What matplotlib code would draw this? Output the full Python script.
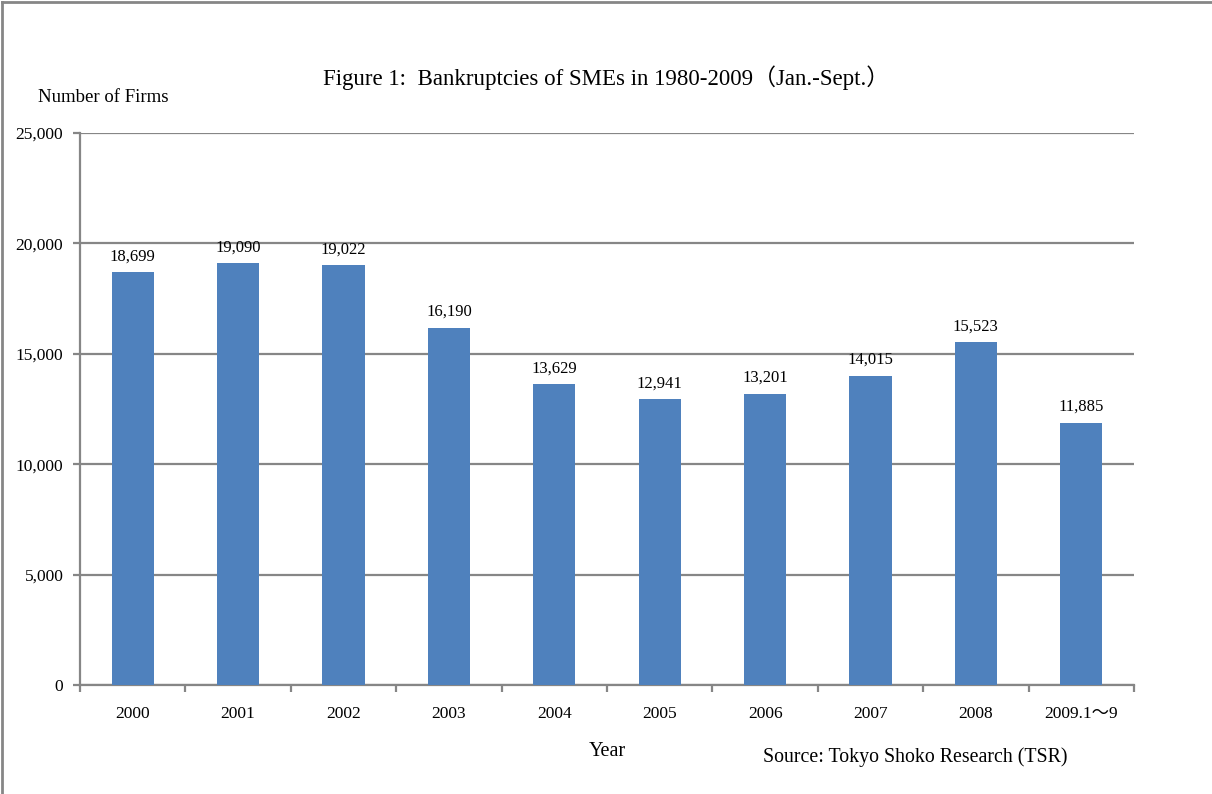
import matplotlib.pyplot as plt
from matplotlib.lines import Line2D

plt.rcParams['font.family'] = ['Liberation Serif', 'Noto Sans CJK JP']

years = ["2000", "2001", "2002", "2003", "2004", "2005", "2006", "2007", "2008", "2009.1～9"]
firms = [18699, 19090, 19022, 16190, 13629, 12941, 13201, 14015, 15523, 11885]

grey = "#868686"
fig = plt.figure(figsize=(12.12, 7.94), dpi=100)
ax = fig.add_axes([0.066, 0.1373, 0.8696, 0.6952])

x = range(len(years))
ax.bar(x, firms, width=0.4, color="#4F81BD", zorder=3)
for i, v in zip(x, firms):
    ax.text(i, v + 350, "{:,}".format(v), ha="center", va="bottom", fontsize=12)

ax.set_xlim(-0.5, len(years) - 0.5)
ax.set_ylim(0, 25000)
ax.set_yticks(range(0, 25001, 5000))
ax.set_yticklabels(["{:,}".format(t) for t in range(0, 25001, 5000)], fontsize=12.5)
ax.yaxis.grid(True, color=grey, lw=1.6, zorder=0)
ax.set_xticks(list(x))
ax.set_xticklabels(years, fontsize=12.5)
ax.tick_params(axis="x", length=0, pad=15)
ax.set_xticks([i - 0.5 for i in range(len(years) + 1)], minor=True)
ax.tick_params(axis="x", which="minor", length=5, color=grey, width=1.6)
ax.tick_params(axis="y", length=5, color=grey, width=1.6, pad=7)
for s in ["top", "right"]:
    ax.spines[s].set_visible(False)
for s in ["left", "bottom"]:
    ax.spines[s].set_color(grey)
    ax.spines[s].set_linewidth(1.6)

fig.text(0.5, 0.902, "Figure 1:  Bankruptcies of SMEs in 1980-2009（Jan.-Sept.）",
         ha="center", va="center", fontsize=16.5)
fig.text(0.085, 0.877, "Number of Firms", ha="center", va="center", fontsize=13.5)
fig.text(0.501, 0.053, "Year", ha="center", va="center", fontsize=14.5)
fig.text(0.755, 0.047, "Source: Tokyo Shoko Research (TSR)", ha="center", va="center", fontsize=14.3)

# outer frame (top and left edges)
fig.add_artist(Line2D([0.002, 1], [0.997, 0.997], color=grey, lw=2))
fig.add_artist(Line2D([0.002, 0.002], [0, 0.997], color=grey, lw=2))

fig.savefig("out.png", dpi=100)
